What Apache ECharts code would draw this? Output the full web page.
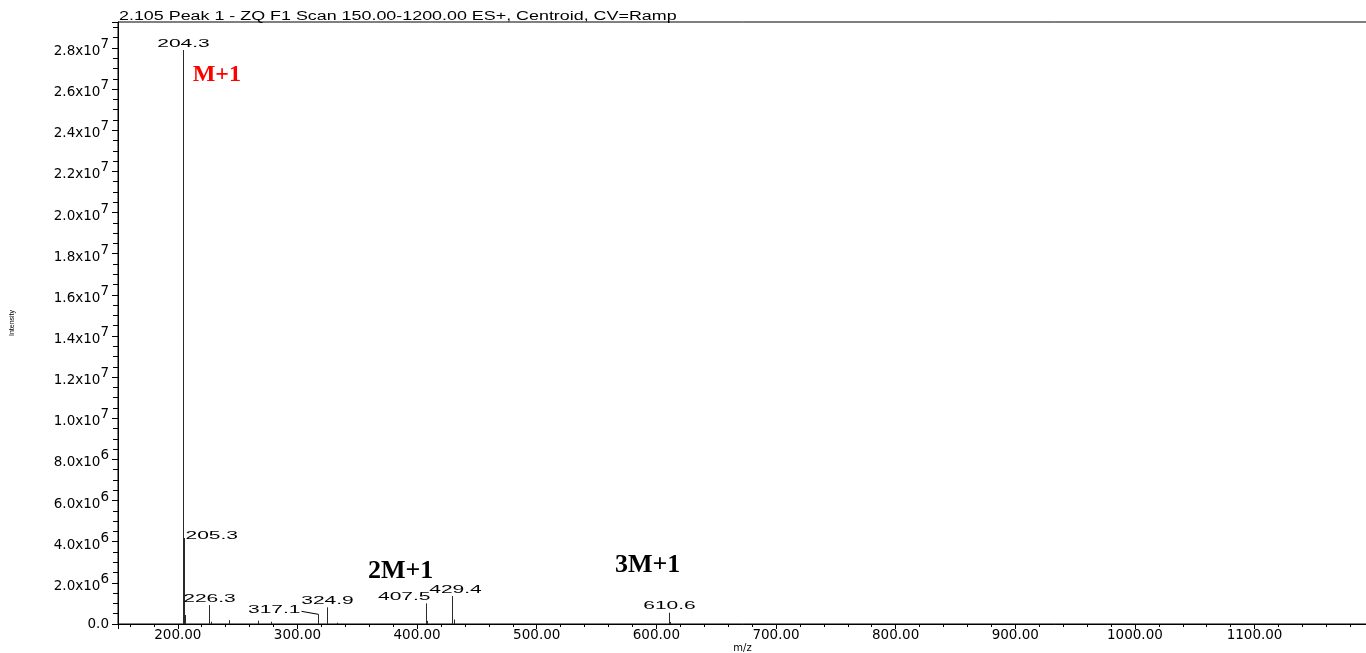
<!DOCTYPE html>
<html>
<head>
<meta charset="utf-8">
<script src="https://cdn.jsdelivr.net/npm/echarts@6/dist/echarts.min.js"></script>
<style>
html,body{margin:0;padding:0;background:#fff;}
#chart{width:1366px;height:653px;}
</style>
</head>
<body>
<div id="chart"></div>
<script>
// ---- data ----
const titleText = '2.105 Peak 1 - ZQ F1 Scan 150.00-1200.00 ES+, Centroid, CV=Ramp';
const xAxisName = 'm/z';
const yAxisName = 'Intensity';
const peakMz = [204.3, 205.3, 206.1, 226.3, 227.4, 242.8, 267.1, 278.3, 317.1, 324.9, 332.7, 407.5, 408.6, 429.4, 430.5, 610.6, 611.7];
const peakIntensity = [27900000, 4180000, 440000, 920000, 110000, 190000, 160000, 110000, 470000, 810000, 60000, 1000000, 150000, 1360000, 220000, 550000, 100000];
const peakLabels = ['204.3', '205.3', '', '226.3', '', '', '', '', '317.1', '324.9', '', '407.5', '', '429.4', '', '610.6', ''];
const annotationText = ['M+1', '2M+1', '3M+1'];
const annotationMz = [212.4, 358.9, 565.4];
const annotationIntensity = [26100000, 1940000, 2240000];

// ---- label placement (style, not data) ----
const labelPlacement = {
  '205.3': {align: 'left', dx: 1, dy: 3},
  '317.1': {align: 'right', dx: -18, dy: 1, leader: true},
  '407.5': {align: 'right', dx: 4, dy: -1},
  '429.4': {align: 'center', dx: 3, dy: -1}
};
const annotationColor = {'M+1': '#ff0000'};
const annotationSize = {'M+1': 24};

const chart = echarts.init(document.getElementById('chart'), null, {renderer: 'canvas'});

function yFmt(v) {
  if (v === 0) return '{b|0.0}';
  const e = Math.floor(Math.log10(v) + 1e-9);
  const m = v / Math.pow(10, e);
  return '{b|' + m.toFixed(1) + 'x10}{s|' + e + '}';
}

const peakData = peakMz.map((m, i) => [m, peakIntensity[i], peakLabels[i]]);
const annData = annotationText.map((t, i) => [annotationMz[i], annotationIntensity[i], t]);

const option = {
  animation: false,
  backgroundColor: '#ffffff',
  grid: {left: 118, right: -1, top: 22, bottom: 29, outerBoundsMode: 'none', containLabel: false,
    show: true, borderColor: '#000', borderWidth: 1, backgroundColor: 'transparent'},
  graphic: [{
    type: 'text', x: 119, y: 22.5, scaleX: 1.49,
    style: {text: titleText, font: '12px "Liberation Sans"', fill: '#000', verticalAlign: 'bottom', align: 'left'}
  }],
  xAxis: {
    type: 'value', min: 150, max: 1194, splitNumber: 10,
    name: xAxisName, nameLocation: 'middle', nameGap: 19, nameMoveOverlap: false,
    nameTextStyle: {fontFamily: 'DejaVu Sans', fontSize: 10, color: '#000'},
    axisLine: {show: true, lineStyle: {color: '#000', width: 1}},
    axisTick: {show: true, length: 5, lineStyle: {color: '#000'}},
    minorTick: {show: true, splitNumber: 5, length: 3, lineStyle: {color: '#000'}},
    splitLine: {show: false},
    axisLabel: {margin: 4, showMinLabel: false, showMaxLabel: false, fontFamily: 'DejaVu Sans', fontSize: 13.5, color: '#000',
      formatter: v => v.toFixed(2)}
  },
  yAxis: {
    type: 'value', min: 0, max: 29260000, interval: 2000000,
    name: yAxisName, nameLocation: 'middle', nameGap: 102, nameRotate: 90, nameMoveOverlap: false,
    nameTextStyle: {fontFamily: 'Liberation Sans', fontSize: 7, color: '#000'},
    axisLine: {show: true, lineStyle: {color: '#000', width: 1}},
    axisTick: {show: true, length: 6, lineStyle: {color: '#000'}},
    minorTick: {show: true, splitNumber: 4, length: 5, lineStyle: {color: '#000'}},
    splitLine: {show: false},
    axisLabel: {
      margin: 9, showMaxLabel: false, formatter: yFmt,
      rich: {
        b: {fontFamily: 'DejaVu Sans', fontSize: 13.5, color: '#000', verticalAlign: 'bottom'},
        s: {fontFamily: 'DejaVu Sans', fontSize: 13.5, color: '#000', verticalAlign: 'bottom', padding: [0, 0, 7, 0]}
      }
    }
  },
  series: [{
    type: 'custom',
    data: peakData,
    encode: {x: 0, y: 1},
    renderItem: function (params, api) {
      const m = api.value(0), v = api.value(1);
      const lab = peakLabels[params.dataIndex];
      const top = api.coord([m, v]);
      const base = api.coord([m, 0]);
      const px = Math.round(top[0]) + 0.5;
      const children = [{
        type: 'line',
        shape: {x1: px, y1: base[1], x2: px, y2: top[1]},
        style: {stroke: '#2a2a2a', lineWidth: 1}
      }];
      if (lab) {
        const p = labelPlacement[lab] || {align: 'center', dx: 0, dy: -1};
        const lx = px + p.dx, ly = top[1] + p.dy;
        children.push({
          type: 'text', x: lx, y: ly, scaleX: 2.1,
          style: {text: lab, font: '10px "Liberation Sans"', fill: '#000', align: p.align, verticalAlign: 'bottom'}
        });
        if (p.leader) {
          children.push({
            type: 'polyline',
            shape: {points: [[lx + 1, top[1] - 3], [px, top[1]]]},
            style: {stroke: '#000', lineWidth: 1, fill: null}
          });
        }
      }
      return {type: 'group', children: children};
    },
    z: 3
  }, {
    type: 'custom',
    data: annData,
    encode: {x: 0, y: 1},
    renderItem: function (params, api) {
      const t = annotationText[params.dataIndex];
      const pt = api.coord([api.value(0), api.value(1)]);
      return {
        type: 'text', x: pt[0], y: pt[1],
        style: {
          text: t, font: 'bold ' + (annotationSize[t] || 26) + 'px "Liberation Serif"',
          fill: annotationColor[t] || '#000', align: 'left', verticalAlign: 'bottom'
        }
      };
    },
    z: 4
  }]
};
chart.setOption(option);
</script>
</body>
</html>
